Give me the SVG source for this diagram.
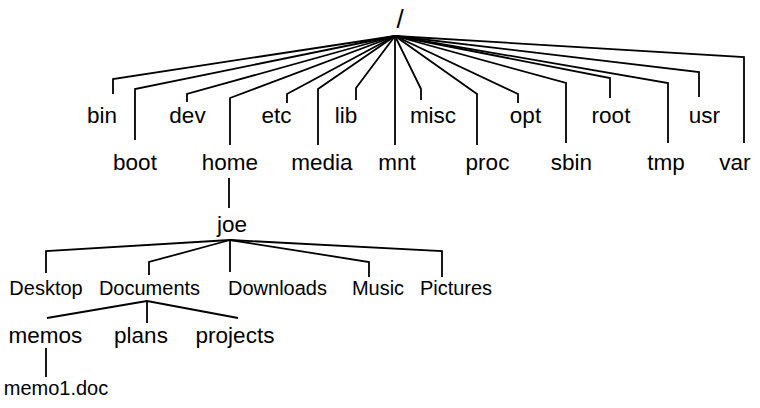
<svg xmlns="http://www.w3.org/2000/svg" width="760" height="408" viewBox="0 0 760 408">
<style>
text{font-family:"Liberation Sans",Arial,sans-serif;fill:#000;text-anchor:middle}
.a{font-size:22.5px}
.b{font-size:20px}
.r{font-size:26px;font-family:"Liberation Sans Narrow","Liberation Sans",sans-serif}
#connectors path{fill:none;stroke:#000;stroke-width:1.8;stroke-linejoin:miter}
</style>
<rect width="760" height="408" fill="#fff"/>
<g id="connectors">
<path d="M395,36 L113,79 L113,94"/>
<path d="M395,36 L135,89 L135,140"/>
<path d="M395,36 L187,94 L187,102"/>
<path d="M395,36 L230,98 L230,145"/>
<path d="M395,36 L287,94 L287,103"/>
<path d="M395,36 L318,89 L318,145"/>
<path d="M395,36 L356,88 L356,100"/>
<path d="M395,36 L395,145"/>
<path d="M395,36 L421,89 L421,100"/>
<path d="M395,36 L477,94 L477,145"/>
<path d="M395,36 L518,94 L518,103"/>
<path d="M395,36 L566,83 L566,143"/>
<path d="M395,36 L610,78 L610,98"/>
<path d="M395,36 L668,83 L668,143"/>
<path d="M395,36 L699,72 L699,97"/>
<path d="M395,36 L744,57 L744,143"/>
<path d="M229,178 L229,208"/>
<path d="M230,240 L46,251 L46,273"/>
<path d="M230,240 L149,262 L149,275"/>
<path d="M230,240 L230,272"/>
<path d="M230,240 L369,262 L369,277"/>
<path d="M230,240 L442,251 L442,277"/>
<path d="M147,301 L47,318"/>
<path d="M147,301 L147,323"/>
<path d="M147,301 L238,318"/>
<path d="M46,348 L46,377"/>
</g>
<g id="root"><text class="r" x="400" y="28">/</text></g>
<g id="bin"><text class="a" x="102" y="123">bin</text></g>
<g id="boot"><text class="a" x="135" y="170">boot</text></g>
<g id="dev"><text class="a" x="187.5" y="123">dev</text></g>
<g id="home"><text class="a" x="230" y="170">home</text></g>
<g id="etc"><text class="a" x="276.5" y="123">etc</text></g>
<g id="media"><text class="a" x="322" y="170">media</text></g>
<g id="lib"><text class="a" x="346" y="123">lib</text></g>
<g id="mnt"><text class="a" x="397" y="170">mnt</text></g>
<g id="misc"><text class="a" x="433" y="123">misc</text></g>
<g id="proc"><text class="a" x="487.5" y="170">proc</text></g>
<g id="opt"><text class="a" x="525.5" y="123">opt</text></g>
<g id="sbin"><text class="a" x="571.5" y="170">sbin</text></g>
<g id="root-dir"><text class="a" x="611" y="123">root</text></g>
<g id="tmp"><text class="a" x="666" y="170">tmp</text></g>
<g id="usr"><text class="a" x="704.5" y="123">usr</text></g>
<g id="var"><text class="a" x="735" y="170">var</text></g>
<g id="joe"><text class="a" x="232" y="232">joe</text></g>
<g id="Desktop"><text class="b" x="46" y="295">Desktop</text></g>
<g id="Documents"><text class="b" x="149.5" y="295">Documents</text></g>
<g id="Downloads"><text class="b" x="277.5" y="295">Downloads</text></g>
<g id="Music"><text class="b" x="378" y="295">Music</text></g>
<g id="Pictures"><text class="b" x="456" y="295">Pictures</text></g>
<g id="memos"><text class="a" x="45.5" y="343">memos</text></g>
<g id="plans"><text class="a" x="141" y="343">plans</text></g>
<g id="projects"><text class="a" x="235" y="343">projects</text></g>
<g id="memo1"><text class="b" x="56" y="395">memo1.doc</text></g>
</svg>
